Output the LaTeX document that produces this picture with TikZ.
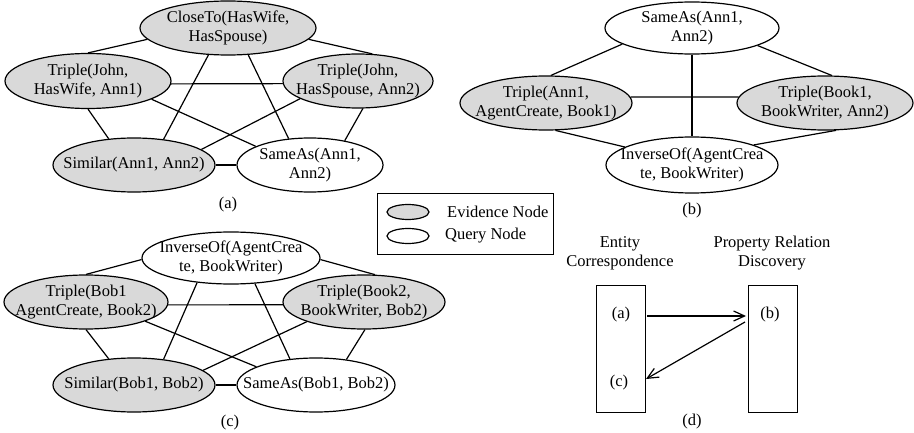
\documentclass[tikz,border=0pt]{standalone}
\usepackage{fontspec}
\setmainfont{Liberation Serif}
\usetikzlibrary{shapes.geometric,arrows.meta}
\definecolor{evfill}{RGB}{217,217,217}
\begin{document}
\begin{tikzpicture}[x=1pt,y=-1pt,
  every node/.style={font=\fontsize{16.5}{19}\selectfont},
  base/.style={ellipse,draw,line width=1.2pt,inner sep=0pt},
  evid/.style={base,fill=evfill},
  query/.style={base,fill=white},
  edge/.style={line width=1.2pt},
  arr/.style={line width=1.2pt,-{Straight Barb[length=11pt,width=10pt,line width=1.2pt]}},
  box/.style={draw,line width=1.2pt,inner sep=0pt,anchor=north west},
  lab/.style={inner sep=0pt}]
\useasboundingbox (0,0) rectangle (914,433);

% ---------- (a) ----------
\node[evid,minimum width=176,minimum height=54,label={[align=center]center:{CloseTo(HasWife,\\HasSpouse)}}] (ct) at (228,28) {};
\node[evid,minimum width=166,minimum height=55,label={[align=center]center:{Triple(John,\\HasWife, Ann1)}}] (j1) at (88,81) {};
\node[evid,minimum width=150,minimum height=54,label={[align=center]center:{Triple(John,\\HasSpouse, Ann2)}}] (j2) at (358,81) {};
\node[evid,minimum width=162,minimum height=54,label={[align=center]center:{Similar(Ann1, Ann2)}}] (sim) at (134,165) {};
\node[query,minimum width=146,minimum height=54,label={[align=center]center:{SameAs(Ann1,\\Ann2)}}] (same) at (310,165) {};
\node[lab] (capa) at (228,205) {(a)};

\draw[edge] (ct.188) -- (j1.90);
\draw[edge] (ct.352) -- (j2.62);
\draw[edge] (ct.234) -- (sim.41);
\draw[edge] (ct.307) -- (same.129);
\draw[edge] (j1.358) -- (j2.182);
\draw[edge] (j1.south) -- (sim.134);
\draw[edge] (j1.344) -- (same.161);
\draw[edge] (j2.197) -- (sim.13);
\draw[edge] (j2.280) -- (same.35);
\draw[edge] (sim.east) -- (same.west);

% ---------- (b) ----------
\node[query,minimum width=174,minimum height=52,label={[align=center]center:{SameAs(Ann1,\\Ann2)}}] (bs) at (692,28) {};
\node[evid,minimum width=172,minimum height=54,label={[align=center]center:{Triple(Ann1,\\AgentCreate, Book1)}}] (bt1) at (546,103) {};
\node[evid,minimum width=176,minimum height=54,label={[align=center]center:{Triple(Book1,\\BookWriter, Ann2)}}] (bt2) at (825,103) {};
\node[query,minimum width=172,minimum height=56,label={[align=center]center:{InverseOf(AgentCrea\\te, BookWriter)}}] (bio) at (692,165) {};
\node[lab] (capb) at (692,211) {(b)};

\draw[edge] (bs.193) -- (bt1.80);
\draw[edge] (bs.345) -- (bt2.76);
\draw[edge] (bs.south) -- (bio.north);
\draw[edge] (bt1.4) -- (bt2.176);
\draw[edge] (bt1.289) -- (bio.165);
\draw[edge] (bt2.292) -- (bio.18);

% ---------- legend ----------
\node[box,minimum width=176,minimum height=61] (legend) at (377,193) {};
\node[evid,minimum width=42,minimum height=15] (lev) at (408,212) {};
\node[query,minimum width=42,minimum height=15] (lq) at (408,236) {};
\node[lab,anchor=west] (levt) at (447,212) {Evidence Node};
\node[lab,anchor=west] (lqt) at (445,236) {Query Node};

% ---------- (c) ----------
\node[query,minimum width=178,minimum height=52,label={[align=center]center:{InverseOf(AgentCrea\\te, BookWriter)}}] (cio) at (231,258) {};
\node[evid,minimum width=164,minimum height=54,label={[align=center]center:{Triple(Bob1\\AgentCreate, Book2)}}] (cb1) at (86,302) {};
\node[evid,minimum width=162,minimum height=54,label={[align=center]center:{Triple(Book2,\\BookWriter, Bob2)}}] (cb2) at (364,302) {};
\node[evid,minimum width=162,minimum height=54,label={[align=center]center:{Similar(Bob1, Bob2)}}] (csim) at (134,385) {};
\node[query,minimum width=158,minimum height=54,label={[align=center]center:{SameAs(Bob1, Bob2)}}] (csame) at (316,385) {};
\node[lab] (capc) at (230,423) {(c)};

\draw[edge] (cio.181) -- (cb1.90);
\draw[edge] (cio.359) -- (cb2.68);
\draw[edge] (cio.216) -- (csim.41);
\draw[edge] (cio.313) -- (csame.135);
\draw[edge] (cb1.358) -- (cb2.182);
\draw[edge] (cb1.south) -- (csim.134);
\draw[edge] (cb1.342) -- (csame.163);
\draw[edge] (cb2.199) -- (csim.12);
\draw[edge] (cb2.272) -- (csame.40);
\draw[edge] (csim.east) -- (csame.west);

% ---------- (d) ----------
\node[lab,align=center] (ec) at (620,253) {Entity\\Correspondence};
\node[lab,align=center] (prd) at (772,253) {Property Relation\\Discovery};
\node[box,minimum width=49,minimum height=127] (r1) at (596,285) {};
\node[box,minimum width=49,minimum height=127] (r2) at (748,285) {};
\node[lab] (da) at (621,315) {(a)};
\node[lab] (db) at (770,315) {(b)};
\node[lab] (dc) at (619,383) {(c)};
\node[lab] (capd) at (692,422) {(d)};
\coordinate (a1s) at (647,316);
\coordinate (a1e) at (746,316);
\coordinate (a2s) at (745,322);
\coordinate (a2e) at (646,379);
\draw[arr] (a1s) -- (a1e);
\draw[arr] (a2s) -- (a2e);
\end{tikzpicture}
\end{document}
